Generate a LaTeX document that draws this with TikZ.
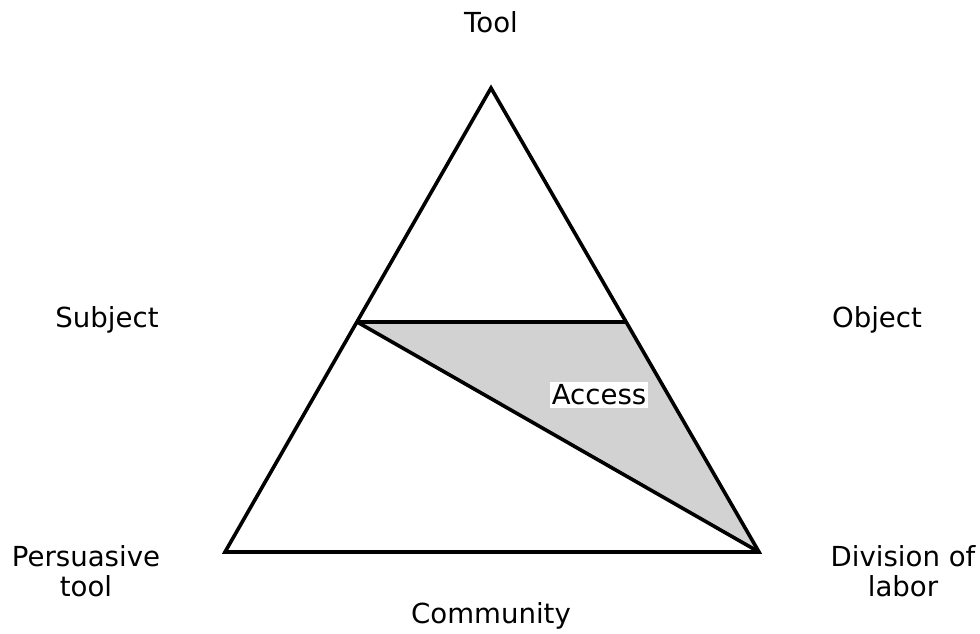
\documentclass[tikz,border=0pt]{standalone}
\usepackage{fontspec}
\setmainfont{DejaVu Sans}
\usepackage{tikz}
\usetikzlibrary{positioning}
\usetikzlibrary{calc}

\begin{document}
\begin{tikzpicture}[x=0.5pt,y=-0.5pt,
	edge/.style={line width=1.8pt, line join=miter},
	lbl/.style={font=\fontsize{13.8}{15}\selectfont, align=center, inner sep=0pt}]
	
	\useasboundingbox (0,0) rectangle (980,633);
	
	% corners of the triangle, USE \coordinate SO NOTHING SITS ON THE VERTEX
	\coordinate (Top)   at (491,88);
	\coordinate (Left)  at (225,552);
	\coordinate (Right) at (759,552);
	
	% the two ends of the cross line, halfway up the sides
	\coordinate (SubjPt) at ($(Left)!0.496!(Top)$);
	\coordinate (ObjPt)  at ($(Right)!0.496!(Top)$);
	
	% shaded part first, so the lines go on top of it
	\fill[gray!35] (SubjPt) -- (ObjPt) -- (Right) -- cycle;
	
	\draw[edge] (Top) -- (Right) -- (Left) -- cycle;
	\draw[edge] (SubjPt) -- (ObjPt);
	\draw[edge] (SubjPt) -- (Right);
	
	%%%%%%%%%%%%%%%%%%%%%%%%%%%%%%%%%%%%%%%%%%%%%%%%%%%%%%%%%%%%%%
	% labels round the triangle
	\node[lbl] (ToolLabel)      at (491,22)  {Tool};
	\node[lbl] (SubjectLabel)   at (107,320) {Subject};
	\node[lbl] (ObjectLabel)    at (877,320) {Object};
	\node[lbl] (PersLabel)      at (86,571)  {Persuasive\\tool};
	\node[lbl] (DivLabel)       at (903,571) {Division of\\labor};
	\node[lbl] (CommunityLabel) at (491,616) {Community};
	
	\node[lbl, fill=white, inner xsep=1pt, inner ysep=1.5pt] (AccessLabel) at (599,395) {Access};
	
\end{tikzpicture}
\end{document}
